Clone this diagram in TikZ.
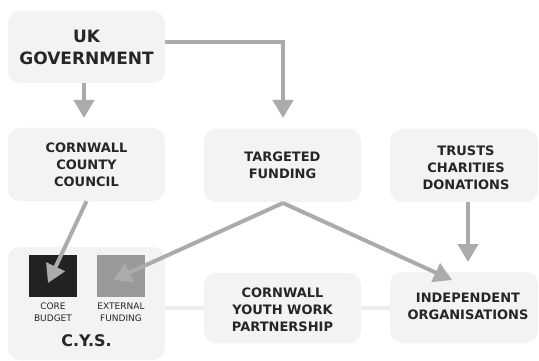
\documentclass[tikz,border=0pt]{standalone}
\usepackage{fontspec}
\setmainfont{DejaVu Sans}
\usetikzlibrary{arrows.meta}
\definecolor{boxgray}{HTML}{F3F3F3}
\definecolor{arrgray}{HTML}{ABABAB}
\definecolor{linkgray}{HTML}{EDEDED}
\definecolor{coreblk}{HTML}{222222}
\definecolor{extgray}{HTML}{999999}
\tikzset{
  box/.style={fill=boxgray, rounded corners=12pt, draw=none, inner sep=0pt, align=center,
    font=\bfseries\fontsize{13}{17}\selectfont, text=black!85},
  arr/.style={draw=arrgray, line width=4pt, -{Triangle[length=18pt,width=20pt]}},
  link/.style={draw=linkgray, line width=4pt},
  small/.style={align=center, font=\fontsize{9}{12}\selectfont, inner sep=0pt, text=black!85},
}
\begin{document}
\begin{tikzpicture}[x=1pt,y=-1pt]
\useasboundingbox (0,0) rectangle (539,361);
% links behind boxes
\node[box, minimum width=157pt, minimum height=113pt] (cys) at (86.5,303.5) {};
\node[box, minimum width=157pt, minimum height=70pt] (cywp) at (282.5,308) {};
\node[box, minimum width=148pt, minimum height=71pt] (indep) at (464,307.5) {};
\draw[link] (cys.east |- 0,308) -- (cywp.west |- 0,308);
\draw[link] (cywp.east |- 0,308) -- (indep.west |- 0,308);
\node[align=center, font=\bfseries\fontsize{13}{17}\selectfont, text=black!85] (cywpt) at (282.5,309.5) {CORNWALL\\YOUTH WORK\\PARTNERSHIP};
\node[align=center, font=\bfseries\fontsize{13}{17}\selectfont, text=black!85] (indept) at (468,306.5) {INDEPENDENT\\ORGANISATIONS};
% top boxes
\node[box, minimum width=157pt, minimum height=72pt, font=\bfseries\fontsize{17}{22}\selectfont] (gov) at (86.5,47) {UK\\GOVERNMENT};
\node[box, minimum width=157pt, minimum height=73pt] (ccc) at (86.5,164.5) {CORNWALL\\COUNTY\\COUNCIL};
\node[box, minimum width=157pt, minimum height=73pt] (tf) at (282.5,165.5) {TARGETED\\FUNDING};
\node[box, minimum width=148pt, minimum height=73pt] (trusts) at (464,165.5) {};
\node[align=center, font=\bfseries\fontsize{13}{17}\selectfont, text=black!85] (trustst) at (466,168) {TRUSTS\\CHARITIES\\DONATIONS};
% CYS contents
\node[fill=coreblk, minimum width=48pt, minimum height=42pt, inner sep=0pt] (core) at (53,276) {};
\node[fill=extgray, minimum width=48pt, minimum height=42pt, inner sep=0pt] (ext) at (121,276) {};
\node[small] (corel) at (53,312.5) {CORE\\BUDGET};
\node[small] (extl) at (121,312.5) {EXTERNAL\\FUNDING};
\node[font=\bfseries\fontsize{16}{18}\selectfont, inner sep=0pt, text=black!85] (cysl) at (86.5,340.5) {C.Y.S.};
% arrow end points
\coordinate (t1) at (84,118);
\coordinate (t2) at (283,118);
\coordinate (t3) at (468,262);
\coordinate (t4) at (48,283);
\coordinate (t5) at (113,280);
\coordinate (t6) at (452,280);
\coordinate (tfb) at (283,203);
% arrows
\draw[arr] (gov.south -| t1) -- (t1);
\draw[arr] (gov.east |- 0,42) -| (t2);
\draw[arr] (trusts.south -| t3) -- (t3);
\draw[arr] (ccc.south) -- (t4);
\draw[arr] (tfb) -- (t5);
\draw[arr] (tfb) -- (t6);
\end{tikzpicture}
\end{document}
